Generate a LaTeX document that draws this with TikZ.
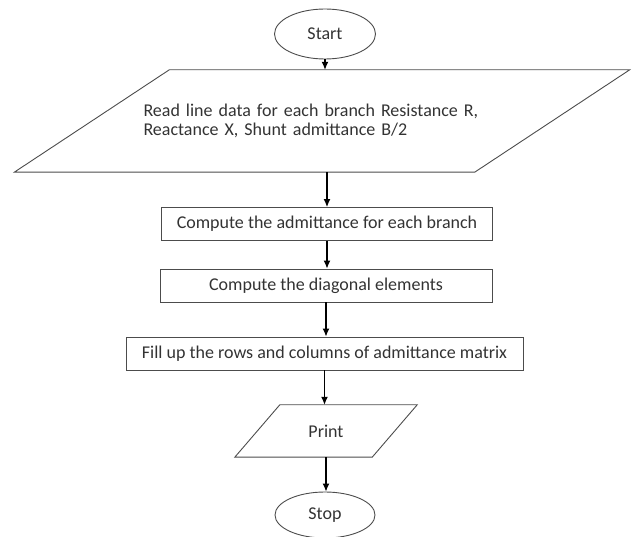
\documentclass[tikz,border=0pt]{standalone}
\usepackage{fontspec}
\setmainfont{Carlito}
\usetikzlibrary{shapes.geometric,arrows.meta}

\begin{document}
\begin{tikzpicture}[>={Latex[length=8pt,width=7pt]}, x=1pt, y=-1pt, font=\fontsize{18pt}{19pt}\selectfont,
  term/.style={draw=black!70, line width=0.9pt, ellipse, minimum width=101pt, minimum height=50pt, inner sep=0pt, text=black!80},
  proc/.style={draw=black!70, line width=0.9pt, rectangle, minimum height=33pt, inner sep=0pt, text=black!80},
  io/.style={rectangle, inner sep=0pt, text=black!80},
  edge/.style={draw=black!70, line width=0.9pt},
  flow/.style={->, line width=1.2pt}]
\useasboundingbox (0,0) rectangle (638,537);
\node[term] (start) at (325,34) {Start};
\node[io, minimum width=460pt, minimum height=102pt, text width=357pt, align=left] (read) at (322,121) {Read line data for each branch Resistance R,\\Reactance X, Shunt admittance B/2};
\draw[edge] ([xshift=-77.5pt]read.south west) -- ([xshift=-77.5pt]read.south east) -- ([xshift=77.5pt]read.north east) -- ([xshift=77.5pt]read.north west) -- cycle;
\node[proc, minimum width=331pt] (adm) at (327,224) {Compute the admittance for each branch};
\node[proc, minimum width=332pt] (diag) at (326,285.5) {Compute the diagonal elements};
\node[proc, minimum width=397pt] (fill) at (324.5,353.5) {Fill up the rows and columns of admittance matrix};
\node[io, minimum width=137pt, minimum height=52pt] (print) at (326,431) {Print};
\draw[edge] ([xshift=-22.5pt]print.south west) -- ([xshift=-22.5pt]print.south east) -- ([xshift=22.5pt]print.north east) -- ([xshift=22.5pt]print.north west) -- cycle;
\node[term, minimum width=100pt, minimum height=46pt] (stop) at (325,515) {Stop};
\draw[flow] (start) -- (start |- read.north);
\draw[flow] (read.south -| adm) -- (adm);
\draw[flow] (adm) -- (adm |- diag.north);
\draw[flow] (diag) -- (diag |- fill.north);
\draw[flow] (fill) -- (fill |- print.north);
\draw[flow] (print) -- (print |- stop.north);
\end{tikzpicture}
\end{document}
